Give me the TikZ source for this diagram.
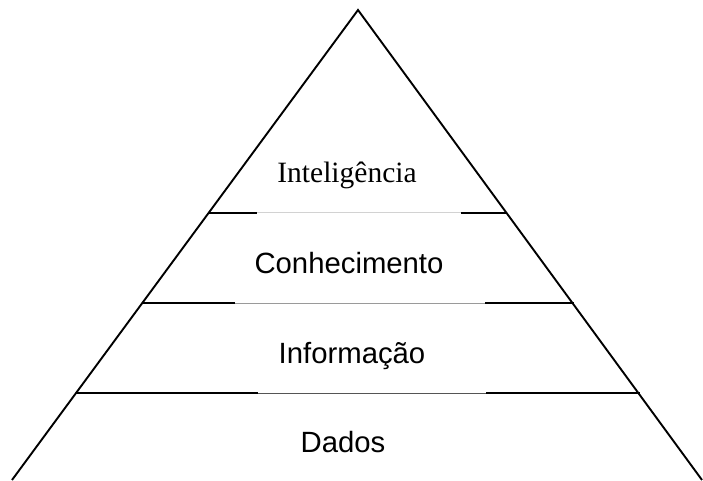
\documentclass[tikz,border=0pt]{standalone}
\usepackage{fontspec}
\setmainfont{Liberation Serif}
\newfontfamily\arialf{Liberation Sans}
\definecolor{gA}{HTML}{D2D2D2}
\definecolor{gB}{HTML}{9A9A9A}
\definecolor{gC}{HTML}{555555}
\tikzset{
  edge/.style={line width=1.9pt, black},
  darkseg/.style={line width=2pt, black},
  lightseg/.style={line width=1pt},
  sanslabel/.style={anchor=base, inner sep=0pt, font=\arialf\fontsize{29.3}{34}\selectfont},
  seriflabel/.style={anchor=base, inner sep=0pt, font=\fontsize{29.5}{35}\selectfont}
}
\begin{document}
\begin{tikzpicture}[x=1pt,y=-1pt]
\useasboundingbox (0,0) rectangle (703,480);
\coordinate (apex) at (358,10);
\coordinate (bl) at (12,480);
\coordinate (br) at (702,480);
% level 1
\coordinate (a1) at (209,212.5);
\coordinate (a2) at (257,212.5);
\coordinate (a3) at (461,212.5);
\coordinate (a4) at (507,212.5);
% level 2
\coordinate (b1) at (143,303);
\coordinate (b2) at (235,303);
\coordinate (b3) at (485,303);
\coordinate (b4) at (574,303);
% level 3
\coordinate (c1) at (76,393);
\coordinate (c2) at (258,393);
\coordinate (c3) at (486,393);
\coordinate (c4) at (640,393);
\draw[edge] (bl) -- (apex) -- (br);
\draw[lightseg, gA] (a2) -- (a3);
\draw[darkseg] (a1) -- (a2);
\draw[darkseg] (a3) -- (a4);
\draw[lightseg, gB] (b2) -- (b3);
\draw[darkseg] (b1) -- (b2);
\draw[darkseg] (b3) -- (b4);
\draw[lightseg, gC] (c2) -- (c3);
\draw[darkseg] (c1) -- (c2);
\draw[darkseg] (c3) -- (c4);
\node[seriflabel] (intel) at (347,182) {Inteligência};
\node[sanslabel] (conh) at (349,273) {Conhecimento};
\node[sanslabel] (info) at (352,363) {Informação};
\node[sanslabel] (dados) at (343,452) {Dados};
\end{tikzpicture}
\end{document}
